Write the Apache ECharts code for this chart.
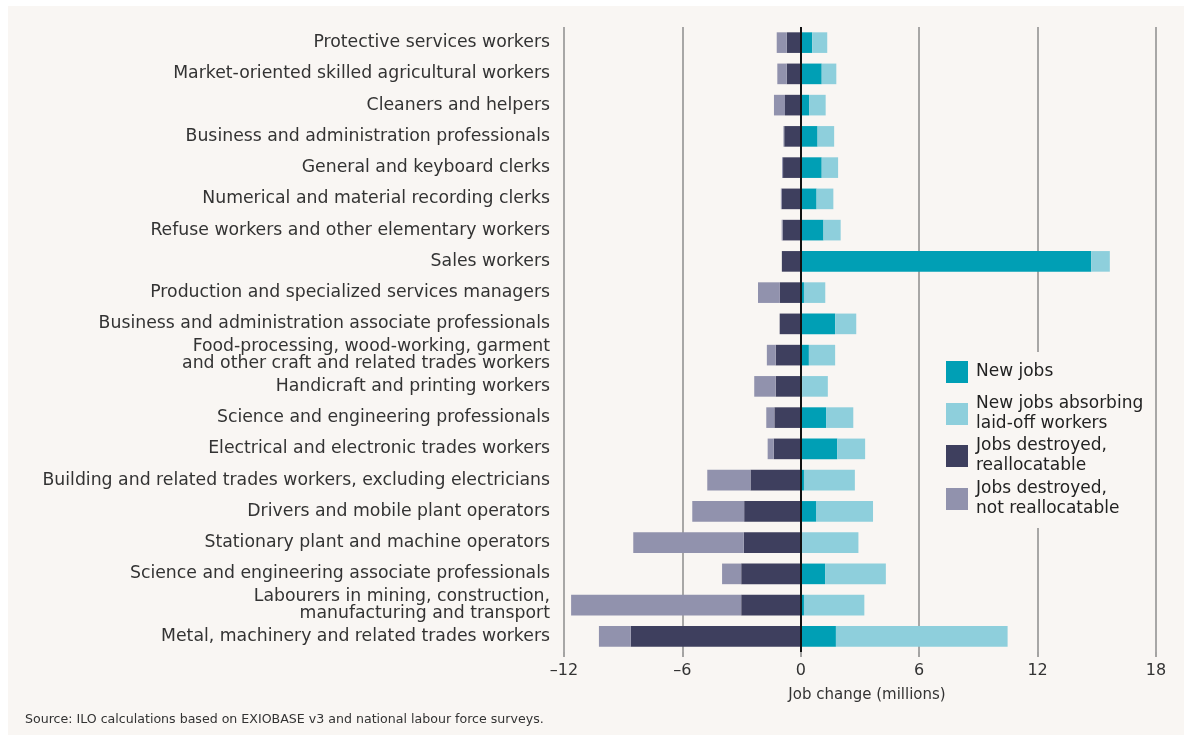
<!DOCTYPE html>
<html>
<head>
<meta charset="utf-8">
<script src="https://cdn.jsdelivr.net/npm/echarts@6/dist/echarts.min.js"></script>
<style>
  html, body { margin: 0; padding: 0; background: #ffffff; }
  #bg { position: absolute; left: 8px; top: 6px; width: 1176px; height: 729px; background: #f9f6f3; }
  #chart { position: absolute; left: 0; top: 0; width: 1184px; height: 735px; }
</style>
</head>
<body>
<div id="bg"></div>
<div id="chart"></div>
<script>
const categories = [
  "Protective services workers",
  "Market-oriented skilled agricultural workers",
  "Cleaners and helpers",
  "Business and administration professionals",
  "General and keyboard clerks",
  "Numerical and material recording clerks",
  "Refuse workers and other elementary workers",
  "Sales workers",
  "Production and specialized services managers",
  "Business and administration associate professionals",
  "Food-processing, wood-working, garment\nand other craft and related trades workers",
  "Handicraft and printing workers",
  "Science and engineering professionals",
  "Electrical and electronic trades workers",
  "Building and related trades workers, excluding electricians",
  "Drivers and mobile plant operators",
  "Stationary plant and machine operators",
  "Science and engineering associate professionals",
  "Labourers in mining, construction,\nmanufacturing and transport",
  "Metal, machinery and related trades workers"
];
const newJobs =        [0.58, 1.06, 0.42, 0.85, 1.06, 0.80, 1.15, 14.72, 0.16, 1.74, 0.41, 0.08, 1.28, 1.85, 0.16, 0.77, 0.06, 1.23, 0.16, 1.78];
const absorbing =      [0.76, 0.74, 0.84, 0.84, 0.83, 0.85, 0.87, 0.94, 1.08, 1.07, 1.33, 1.29, 1.38, 1.41, 2.58, 2.89, 2.86, 3.08, 3.06, 8.70];
const reallocatable =  [-0.71, -0.71, -0.80, -0.84, -0.90, -0.96, -0.92, -0.96, -1.06, -1.07, -1.27, -1.27, -1.34, -1.37, -2.55, -2.87, -2.89, -3.02, -3.02, -8.62];
const notReallocatable = [-0.51, -0.48, -0.56, -0.04, -0.05, -0.05, -0.05, 0, -1.11, 0, -0.45, -1.09, -0.41, -0.31, -2.19, -2.63, -5.60, -0.97, -8.62, -1.61];
const xTicks = { min: -12, max: 18, interval: 6 };
const seriesNames = ["New jobs", "New jobs absorbing\nlaid-off workers", "Jobs destroyed,\nreallocatable", "Jobs destroyed,\nnot reallocatable"];
const colors = ["#009fb5", "#8ecfdc", "#3e3f5e", "#9192ad"];
const sourceText = "Source: ILO calculations based on EXIOBASE v3 and national labour force surveys.";

const FONT = "'DejaVu Sans', sans-serif";
const chart = echarts.init(document.getElementById('chart'));

function legendFor(i, top) {
  return {
    show: true,
    data: [seriesNames[i]],
    left: 946,
    top: top,
    orient: 'vertical',
    itemWidth: 22,
    itemHeight: 22,
    padding: 0,
    selectedMode: false,
    icon: 'rect',
    itemGap: 0,
    textStyle: { fontFamily: FONT, fontSize: 17, color: '#222', lineHeight: 20, padding: [0, 0, 0, 3] }
  };
}

const option = {
  backgroundColor: 'transparent',
  animation: false,
  textStyle: { fontFamily: FONT },
  grid: { left: 564, right: 28, top: 27, bottom: 83, containLabel: false },
  legend: [legendFor(0, 361), legendFor(1, 394), legendFor(2, 436), legendFor(3, 479)],
  graphic: [
    { type: 'rect', left: 936, top: 352, shape: { width: 214, height: 176 }, style: { fill: '#f9f6f3' }, z: 1, silent: true },
    { type: 'text', left: 25, top: 713, style: { text: sourceText, fontFamily: FONT, fontSize: 12.6, fill: '#333' }, silent: true }
  ],
  xAxis: {
    type: 'value',
    min: xTicks.min, max: xTicks.max, interval: xTicks.interval,
    name: 'Job change (millions)',
    nameLocation: 'middle',
    nameGap: 36,
    nameTextStyle: { fontFamily: FONT, fontSize: 15, color: '#333', padding: [0, 0, 0, 14] },
    axisLine: { show: false },
    axisTick: { show: true, length: 5, lineStyle: { color: '#888', width: 1.5 } },
    axisLabel: {
      fontFamily: FONT, fontSize: 16, color: '#333', margin: 11,
      formatter: v => (v < 0 ? '\u2013' + Math.abs(v) : String(v))
    },
    splitLine: { show: true, lineStyle: { color: '#8c8c8c', width: 1.5 } }
  },
  yAxis: {
    type: 'category',
    data: categories,
    inverse: true,
    axisLine: { show: false },
    axisTick: { show: false },
    axisLabel: { fontFamily: FONT, fontSize: 17.3, color: '#333', margin: 14, lineHeight: 17, align: 'right' },
    splitLine: { show: false }
  },
  series: [
    {
      name: seriesNames[0], type: 'bar', stack: 'all', data: newJobs, barWidth: '66%',
      itemStyle: { color: colors[0] },
      markLine: {
        silent: true, symbol: 'none', label: { show: false },
        lineStyle: { color: '#111', width: 2, type: 'solid' },
        data: [{ xAxis: 0 }], z: 10
      }
    },
    { name: seriesNames[1], type: 'bar', stack: 'all', data: absorbing, barWidth: '66%', itemStyle: { color: colors[1] } },
    { name: seriesNames[2], type: 'bar', stack: 'all', data: reallocatable, barWidth: '66%', itemStyle: { color: colors[2] } },
    { name: seriesNames[3], type: 'bar', stack: 'all', data: notReallocatable, barWidth: '66%', itemStyle: { color: colors[3] } }
  ]
};
chart.setOption(option);
</script>
</body>
</html>
